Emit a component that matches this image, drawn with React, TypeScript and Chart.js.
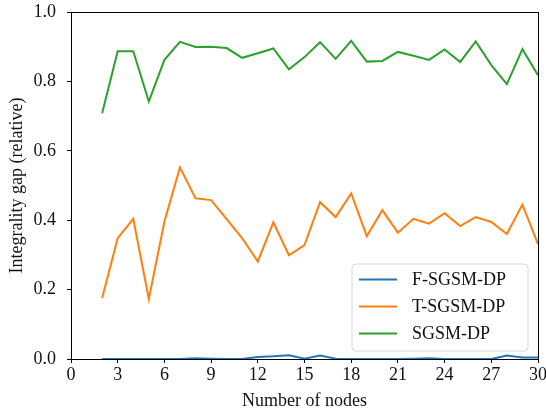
import React, { useEffect, useRef } from "react";
import { Chart, registerables } from "chart.js";

Chart.register(...registerables);

const nodes = [2, 3, 4, 5, 6, 7, 8, 9, 10, 11, 12, 13, 14, 15, 16, 17, 18, 19, 20, 21, 22, 23, 24, 25, 26, 27, 28, 29, 30];
const fSgsm = [0, 0, 0, 0, 0, 0, 0.002, 0.001, 0, 0, 0.006, 0.008, 0.011, 0.001, 0.010, 0.001, 0, 0, 0, 0, 0.001, 0.002, 0, 0, 0, 0, 0.010, 0.004, 0.004];
const tSgsm = [0.176, 0.348, 0.404, 0.173, 0.396, 0.552, 0.463, 0.458, 0.403, 0.348, 0.281, 0.394, 0.299, 0.328, 0.452, 0.409, 0.477, 0.354, 0.429, 0.364, 0.404, 0.390, 0.420, 0.383, 0.409, 0.395, 0.360, 0.445, 0.331];
const sgsm = [0.708, 0.887, 0.887, 0.742, 0.862, 0.914, 0.899, 0.900, 0.896, 0.868, 0.881, 0.895, 0.835, 0.870, 0.913, 0.865, 0.917, 0.857, 0.859, 0.885, 0.874, 0.862, 0.892, 0.856, 0.915, 0.847, 0.792, 0.893, 0.818];
const seriesNames = ["F-SGSM-DP", "T-SGSM-DP", "SGSM-DP"];
const seriesColors = ["#1f77b4", "#ff7f0e", "#2ca02c"];
const xTitle = "Number of nodes";
const yTitle = "Integrality gap (relative)";

const FONT = "'Liberation Serif', 'Times New Roman', serif";

const framePlugin = {
  id: "frame",
  afterDraw(chart: any) {
    const { ctx, chartArea } = chart;
    ctx.save();
    ctx.strokeStyle = "#000";
    ctx.lineWidth = 1;
    ctx.strokeRect(Math.round(chartArea.left) + 0.5, Math.round(chartArea.top) + 0.5, Math.round(chartArea.right - chartArea.left), Math.round(chartArea.bottom - chartArea.top));
    // legend
    const w = 176;
    const h = 87;
    const x = chartArea.right - 10 - w;
    const y = chartArea.bottom - 8 - h;
    ctx.beginPath();
    const r = 4;
    ctx.moveTo(x + r, y);
    ctx.lineTo(x + w - r, y);
    ctx.quadraticCurveTo(x + w, y, x + w, y + r);
    ctx.lineTo(x + w, y + h - r);
    ctx.quadraticCurveTo(x + w, y + h, x + w - r, y + h);
    ctx.lineTo(x + r, y + h);
    ctx.quadraticCurveTo(x, y + h, x, y + h - r);
    ctx.lineTo(x, y + r);
    ctx.quadraticCurveTo(x, y, x + r, y);
    ctx.closePath();
    ctx.fillStyle = "rgba(255,255,255,0.8)";
    ctx.fill();
    ctx.strokeStyle = "#d6d6d6";
    ctx.lineWidth = 1;
    ctx.stroke();
    chart.data.datasets.forEach((ds: any, i: number) => {
      const ry = y + 15.5 + i * 27;
      ctx.beginPath();
      ctx.strokeStyle = ds.borderColor;
      ctx.lineWidth = 2;
      ctx.moveTo(x + 7, ry);
      ctx.lineTo(x + 45, ry);
      ctx.stroke();
      ctx.fillStyle = "#111";
      ctx.font = `18px ${FONT}`;
      ctx.textBaseline = "middle";
      ctx.textAlign = "left";
      ctx.fillText(ds.label, x + 60, ry + 1);
    });
    ctx.restore();
  },
};

export default function App() {
  const ref = useRef<HTMLCanvasElement | null>(null);
  useEffect(() => {
    if (!ref.current) return;
    const all = [fSgsm, tSgsm, sgsm];
    const chart = new Chart(ref.current, {
      type: "line",
      data: {
        datasets: all.map((vals, i) => ({
          label: seriesNames[i],
          data: nodes.map((n, j) => ({ x: n, y: vals[j] })),
          borderColor: seriesColors[i],
          backgroundColor: seriesColors[i],
          borderWidth: 2,
          pointRadius: 0,
          tension: 0,
          fill: false,
        })),
      },
      options: {
        animation: false,
        responsive: false,
        maintainAspectRatio: false,
        layout: { padding: { left: 0, top: 12, right: 8, bottom: 0 } },
        plugins: { legend: { display: false }, tooltip: { enabled: false } },
        scales: {
          x: {
            type: "linear",
            min: 0,
            max: 30,
            afterFit(scale: any) {
              scale.height = 53;
              scale.paddingLeft = 0;
              scale.paddingRight = 0;
            },
            ticks: {
              stepSize: 3,
              color: "#111",
              padding: 1,
              maxRotation: 0,
              font: { family: FONT, size: 18 },
            },
            grid: { drawOnChartArea: false, drawTicks: true, tickLength: 4, color: "#000" },
            border: { display: true, color: "#000", width: 1 },
            title: {
              display: true,
              text: xTitle,
              color: "#111",
              font: { family: FONT, size: 18 },
              padding: { top: 0, bottom: 0 },
            },
          },
          y: {
            min: 0,
            max: 1,
            afterFit(scale: any) {
              scale.width = 71;
              scale.paddingTop = 0;
              scale.paddingBottom = 0;
            },
            ticks: {
              stepSize: 0.2,
              color: "#111",
              padding: 11,
              font: { family: FONT, size: 18 },
              callback: (v: any) => Number(v).toFixed(1),
            },
            grid: { drawOnChartArea: false, drawTicks: true, tickLength: 4, color: "#000" },
            border: { display: true, color: "#000", width: 1 },
            title: {
              display: true,
              text: yTitle,
              color: "#111",
              font: { family: FONT, size: 18 },
              padding: { top: 6, bottom: 0 },
            },
          },
        },
      },
      plugins: [framePlugin],
    } as any);
    return () => chart.destroy();
  }, []);
  return (
    <div style={{ position: "absolute", left: 0, top: 0, width: 546, height: 412 }}>
      <canvas ref={ref} width={546} height={412} style={{ display: "block", width: 546, height: 412 }} />
    </div>
  );
}
